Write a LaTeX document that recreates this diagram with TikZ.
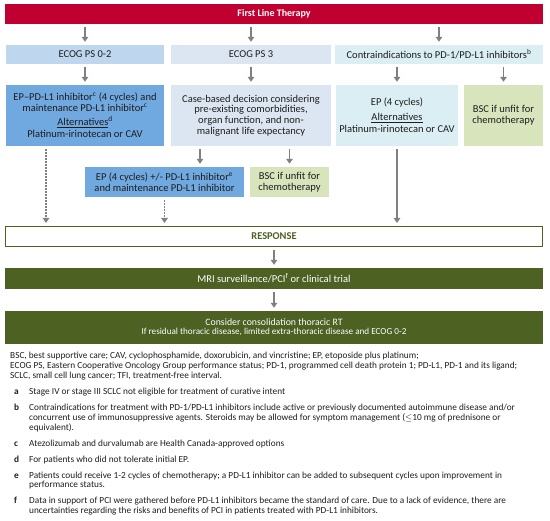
\documentclass[tikz,border=0pt]{standalone}
\usepackage{fontspec}
\setmainfont{Carlito}
\usetikzlibrary{arrows.meta}
\definecolor{flred}{RGB}{192,0,48}
\definecolor{psA}{RGB}{190,215,238}
\definecolor{psB}{RGB}{220,230,242}
\definecolor{contra}{RGB}{218,238,243}
\definecolor{epblue}{RGB}{112,168,224}
\definecolor{bscgreen}{RGB}{216,228,188}
\definecolor{olive}{RGB}{76,97,34}
\definecolor{arrgrey}{RGB}{128,128,128}
\definecolor{boxtext}{RGB}{30,30,30}
\tikzset{
    box/.style={inner sep=0pt,align=center,text=boxtext,minimum width=#1},
    arr/.style={->,draw=arrgrey,line width=1.8pt,shorten <=3pt,shorten >=3pt},
    dotarr/.style={arr,line width=1.5pt,dash pattern=on 1.5pt off 1.5pt},
    fn/.style={anchor=base west,inner sep=0pt,align=left,text=boxtext,font=\fontsize{9.3}{9.8}\selectfont},
}
\begin{document}
\begin{tikzpicture}[x=1pt,y=-1pt,>={Triangle[length=5pt,width=6.5pt]},font=\fontsize{10.5}{10.6}\selectfont]
            \useasboundingbox (0,0) rectangle (550,521);
            \node[box=538pt,minimum height=20pt,fill=flred,text=white,font=\fontsize{10}{11}\selectfont\bfseries] (first) at (274,14) {First Line Therapy};
            \node[box=158pt,minimum height=19pt,fill=psA] (ps02) at (85,54.5) {ECOG PS 0-2};
            \node[box=160pt,minimum height=19pt,fill=psB] (ps3) at (251,54.5) {ECOG PS 3};
            \node[box=208pt,minimum height=19pt,fill=contra] (contra) at (439,54.5) {Contraindications to PD-1/PD-L1 inhibitors\textsuperscript{b}};
            \node[box=158pt,minimum height=61pt,fill=epblue] (epA) at (85,115.5) {EP--PD-L1 inhibitor\textsuperscript{c} (4 cycles) and\\maintenance PD-L1 inhibitor\textsuperscript{c}\\[4pt]\underline{Alternatives}\textsuperscript{d}\\[1.5pt]Platinum-irinotecan or CAV};
            \node[box=160pt,minimum height=61pt,fill=psB] (casebox) at (251,115.5) {Case-based decision considering\\pre-existing comorbidities,\\organ function, and non-\\malignant life expectancy};
            \node[box=122pt,minimum height=61pt,fill=contra] (epC) at (397,115.5) {EP (4 cycles)\\[4pt]\underline{Alternatives}\\[1.5pt]Platinum-irinotecan or CAV};
            \node[box=79pt,minimum height=61pt,fill=bscgreen] (bscD) at (503.5,115.5) {BSC if unfit for\\chemotherapy};
            \node[box=159pt,minimum height=30pt,fill=epblue] (epE) at (164.5,182) {EP (4 cycles) +/- PD-L1 inhibitor\textsuperscript{e}\\and maintenance PD-L1 inhibitor};
            \node[box=79pt,minimum height=30pt,fill=bscgreen] (bscF) at (289.5,182) {BSC if unfit for\\chemotherapy};
            \node[box=537pt,minimum height=20pt,draw=olive,line width=1pt,fill=white,text=olive,font=\fontsize{10.4}{11}\selectfont\bfseries] (resp) at (274,236.5) {RESPONSE};
            \node[box=538pt,minimum height=21pt,fill=olive,text=white] (mri) at (274,278.5) {MRI surveillance/PCI\textsuperscript{f} or clinical trial};
            \node[box=538pt,minimum height=33pt,fill=olive,text=white,font=\fontsize{9.8}{9}\selectfont] (consol) at (274,327.5) {Consider consolidation thoracic RT\\{\fontsize{9.15}{9}\selectfont If residual thoracic disease, limited extra-thoracic disease and ECOG 0-2}};
            \draw[arr] (ps02.north |- first.south) -- (ps02.north);
            \draw[arr] (ps3.north |- first.south) -- (ps3.north);
            \draw[arr] (contra.north |- first.south) -- (contra.north);
            \draw[arr] (ps02) -- (epA);
            \draw[arr] (ps3) -- (casebox);
            \draw[arr] (epC.north |- contra.south) -- (epC.north);
            \draw[arr] (bscD.north |- contra.south) -- (bscD.north);
            \draw[arr] ([xshift=-51pt]casebox.south) -- ([xshift=-51pt]casebox.south |- epE.north);
            \draw[arr] (bscF.north |- casebox.south) -- (bscF.north);
            \draw[dotarr] ([xshift=-39pt]epA.south) -- ([xshift=-39pt]epA.south |- resp.north);
            \draw[dotarr] (epE.south) -- (epE.south |- resp.north);
            \draw[arr] (epC.south) -- (epC.south |- resp.north);
            \draw[arr] (resp) -- (mri);
            \draw[arr] (mri) -- (consol);
            \node[fn] (abbr) at (10,378.6) {BSC, best supportive care; CAV, cyclophosphamide, doxorubicin, and vincristine; EP, etoposide plus platinum;\\ECOG PS, Eastern Cooperative Oncology Group performance status; PD-1, programmed cell death protein 1; PD-L1, PD-1 and its ligand;\\SCLC, small cell lung cancer; TFI, treatment-free interval.};
            \foreach \l/\y in {a/394.6,b/410.6,c/446.2,d/462.2,e/478.2,f/504}
                \node[fn,font=\fontsize{9.3}{9.8}\selectfont\bfseries] (lab\l) at (14,\y) {\l};
            \node[fn] (fna) at (29,394.6) {Stage IV or stage III SCLC not eligible for treatment of curative intent};
            \node[fn] (fnb) at (29,430.2) {Contraindications for treatment with PD-1/PD-L1 inhibitors include active or previously documented autoimmune disease and/or\\concurrent use of immunosuppressive agents. Steroids may be allowed for symptom management ($\le$10 mg of prednisone or\\equivalent).};
            \node[fn] (fnc) at (29,446.2) {Atezolizumab and durvalumab are Health Canada-approved options};
            \node[fn] (fnd) at (29,462.2) {For patients who did not tolerate initial EP.};
            \node[fn] (fne) at (29,488) {Patients could receive 1-2 cycles of chemotherapy; a PD-L1 inhibitor can be added to subsequent cycles upon improvement in\\performance status.};
            \node[fn] (fnf) at (29,513.8) {Data in support of PCI were gathered before PD-L1 inhibitors became the standard of care. Due to a lack of evidence, there are\\uncertainties regarding the risks and benefits of PCI in patients treated with PD-L1 inhibitors.};
        \end{tikzpicture}
\end{document}
